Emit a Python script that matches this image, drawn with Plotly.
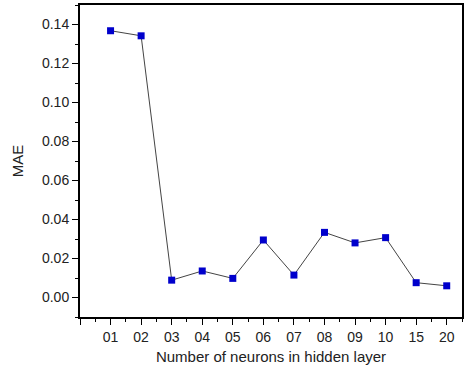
import plotly.graph_objects as go

# neurons in hidden layer vs MAE
neuron_labels = ["01", "02", "03", "04", "05", "06", "07", "08", "09", "10", "15", "20"]
mae_values = [0.1368, 0.1342, 0.0089, 0.0136, 0.0098, 0.0295, 0.0115, 0.0334, 0.0280, 0.0307, 0.0076, 0.0060]

x_pos = list(range(1, len(neuron_labels) + 1))

fig = go.Figure(go.Scatter(
    x=x_pos, y=mae_values,
    mode="lines+markers",
    line=dict(color="#444444", width=1),
    marker=dict(symbol="square", size=7, color="#0000CC",
                line=dict(color="#0000CC", width=0)),
    showlegend=False,
))

fnt = "Liberation Sans, Arial, sans-serif"
axis_font = dict(family=fnt, size=14, color="#222222")

fig.update_xaxes(
    range=[0, 12.5],
    tickvals=[0] + x_pos, ticktext=[""] + neuron_labels,
    ticks="outside", ticklen=6, tickwidth=1, tickcolor="black",
    minor=dict(dtick=0.5, tick0=0, ticks="outside", ticklen=3, tickcolor="black"),
    showline=True, linecolor="black", linewidth=2, mirror=True,
    showgrid=False, zeroline=False, automargin=False,
    tickfont=axis_font,
    title=dict(text="Number of neurons in hidden layer", font=dict(family=fnt, size=15, color="#222222"), standoff=8),
)
fig.update_yaxes(
    range=[-0.01, 0.15],
    tickvals=[0, 0.02, 0.04, 0.06, 0.08, 0.10, 0.12, 0.14],
    ticktext=["0.00", "0.02", "0.04", "0.06", "0.08", "0.10", "0.12", "0.14"],
    ticks="outside", ticklen=6, tickwidth=1, tickcolor="black",
    minor=dict(dtick=0.01, tick0=0, ticks="outside", ticklen=3, tickcolor="black"),
    showline=True, linecolor="black", linewidth=2, mirror=True,
    showgrid=False, zeroline=False, automargin=False,
    tickfont=axis_font,
    title=dict(text="MAE", font=dict(family=fnt, size=15, color="#222222"), standoff=15),
)

fig.update_layout(
    width=471, height=368,
    margin=dict(l=80, r=9, t=5, b=51),
    plot_bgcolor="white", paper_bgcolor="white",
)

# page body has a default 8px margin, drop it so the figure sits at the corner
fig.write_html("out.html", config={"displayModeBar": False},
               post_script="document.body.style.margin='0';")
